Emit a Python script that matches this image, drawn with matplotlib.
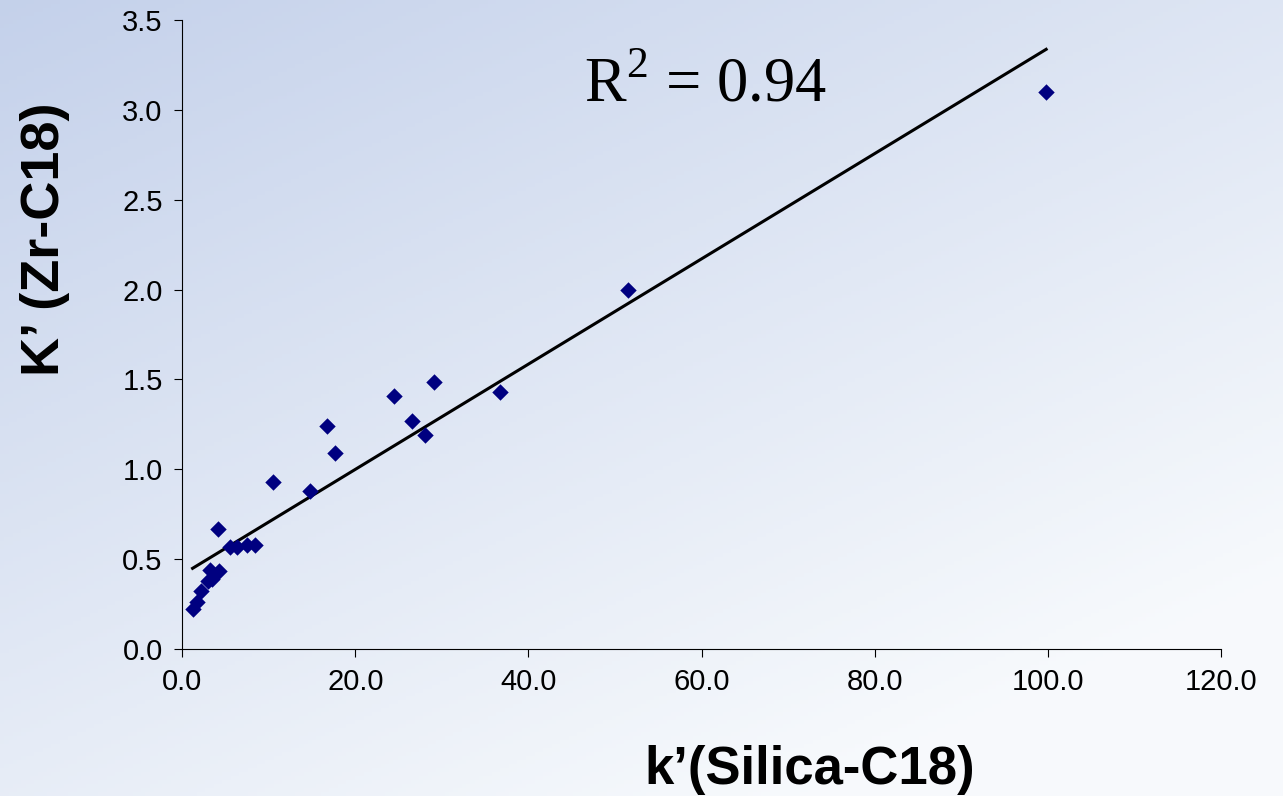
import numpy as np
import matplotlib.pyplot as plt

# k' values
k_silica = [1.2, 1.7, 2.2, 3.0, 3.4, 3.2, 4.2, 4.1, 5.5, 6.3, 7.5, 8.4,
            10.5, 14.8, 16.7, 17.7, 24.5, 26.6, 28.1, 29.1, 36.7, 51.5, 99.8]
k_zr = [0.22, 0.26, 0.32, 0.38, 0.39, 0.44, 0.433, 0.667, 0.568, 0.568, 0.58, 0.58,
        0.93, 0.878, 1.24, 1.09, 1.41, 1.27, 1.19, 1.487, 1.43, 2.0, 3.1]
r2_label = r"R$^{\mathregular{2}}$ = 0.94"

plt.rcParams['font.family'] = ['Liberation Sans', 'DejaVu Sans']

fig = plt.figure(figsize=(12.83, 7.96), dpi=100)

# background gradient (bluish top-left to near white bottom-right)
bg = fig.add_axes([0, 0, 1, 1], zorder=-10)
yy, xx = np.mgrid[0:1:200j, 0:1:300j]
t = np.clip((xx * 0.55 + yy * 0.75) / 1.1, 0, 1)
c0 = np.array([0.77, 0.82, 0.92])
c1 = np.array([0.97, 0.98, 0.99])
img = c0[None, None, :] * (1 - t[..., None]) + c1[None, None, :] * t[..., None]
bg.imshow(img, aspect='auto', extent=[0, 1, 0, 1], origin='upper')
bg.axis('off')

ax = fig.add_axes([0.142, 0.1847, 0.8097, 0.79])
ax.patch.set_alpha(0)

x = np.array(k_silica)
y = np.array(k_zr)
ax.scatter(x, y, marker='D', s=70, color='#000080', zorder=3, linewidths=0)

# linear trend line
m, b = np.polyfit(x, y, 1)
xl = np.array([x.min(), x.max()])
ax.plot(xl, m * xl + b, color='black', lw=2.2, zorder=2)

ax.set_xlim(0, 120)
ax.set_ylim(0, 3.5)
ax.set_xticks(np.arange(0, 121, 20))
ax.set_yticks(np.arange(0, 3.51, 0.5))
ax.xaxis.set_major_formatter(plt.FormatStrFormatter('%.1f'))
ax.yaxis.set_major_formatter(plt.FormatStrFormatter('%.1f'))
ax.tick_params(labelsize=21, length=6, direction='out', pad=8)
for s in ['top', 'right']:
    ax.spines[s].set_visible(False)

ax.text(0.387, 0.87, r2_label, transform=ax.transAxes, fontsize=45,
        family='Liberation Serif')

fig.text(0.631, 0.033, "k\u2019(Silica-C18)", fontsize=38, fontweight='bold',
         ha='center', va='center')
fig.text(0.035, 0.70, "K\u2019 (Zr-C18)", fontsize=39, fontweight='bold',
         rotation=90, ha='center', va='center')

fig.savefig("out.png", dpi=100)
